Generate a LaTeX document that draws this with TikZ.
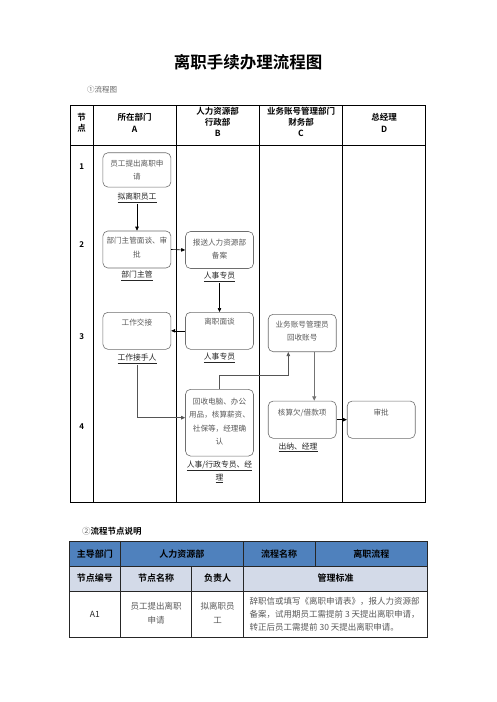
\documentclass[tikz,border=0pt]{standalone}
\usepackage{fontspec}
\setmainfont{Noto Sans CJK SC}[BoldFont={Noto Sans CJK SC Bold}]
\usetikzlibrary{arrows.meta,calc}
\definecolor{hblue}{HTML}{4F81BD}
\definecolor{hlight}{HTML}{D3DAE8}
\definecolor{boxline}{HTML}{6E6E6E}
\definecolor{boxtext}{HTML}{5A5A5A}
\definecolor{conn}{HTML}{555555}
\begin{document}
\begin{tikzpicture}[x=1pt,y=-1pt,
  box/.style={draw=boxline, rounded corners=5pt, minimum width=68pt, minimum height=37pt, inner sep=0pt, line width=0.6pt},
  btxt/.style={font=\fontsize{7.6}{13.3}\selectfont, text=boxtext, align=center, inner sep=0pt, anchor=north},
  lab/.style={font=\fontsize{7.8}{13}\selectfont, text=black!85, align=center, inner sep=1pt},
  hdr/.style={font=\bfseries\fontsize{8.5}{11}\selectfont, align=center, inner sep=0pt},
  num/.style={font=\bfseries\fontsize{8}{10}\selectfont, inner sep=0pt},
  tgrid/.style={line width=0.8pt, draw=black},
  t2grid/.style={line width=0.8pt, draw=black!85},
  t2h/.style={font=\bfseries\fontsize{9}{11}\selectfont, align=center, inner sep=0pt},
  t2t/.style={font=\fontsize{8.5}{14}\selectfont, text=boxtext, align=center, inner sep=0pt},
  arr/.style={-{Triangle[length=4pt,width=3.5pt]}, line width=0.6pt, draw=black},
  garr/.style={-{Triangle[length=4pt,width=3.5pt]}, line width=0.7pt, draw=conn},
  tarr/.style={-{Triangle[length=4.5pt,width=4pt]}, line width=1.3pt, draw=black!55}
]
\useasboundingbox (0,0) rectangle (496,702);
\fill[white] (0,0) rectangle (496,702);

% title
\node[font=\bfseries\fontsize{16.5}{18}\selectfont, inner sep=0pt] (title) at (248,62) {离职手续办理流程图};
\node[font=\fontsize{7.5}{9}\selectfont, text=black!60, anchor=west, inner sep=0pt] (sec1) at (87,90) {①流程图};

% flow table grid
\draw[tgrid] (70,105) rectangle (425.5,502.5);
\foreach \xx in {93.3,176,259.3,342.7} \draw[tgrid] (\xx,105) -- (\xx,502.5);
\draw[tgrid] (70,145.5) -- (425.5,145.5);

% headers
\node[hdr] (h0) at (81.7,123) {节\\点};
\node[hdr, font=\bfseries\fontsize{8.5}{12.3}\selectfont] (hA) at (134.7,123) {所在部门\\A};
\node[hdr] (hB) at (217.7,121.5) {人力资源部\\行政部\\B};
\node[hdr] (hC) at (301,121.5) {业务账号管理部门\\财务部\\C};
\node[hdr, font=\bfseries\fontsize{8.5}{12.3}\selectfont] (hD) at (384.1,123) {总经理\\D};

% node numbers
\node[num] (n1) at (81.7,166.7) {1};
\node[num] (n2) at (81.7,245) {2};
\node[num] (n3) at (81.7,336.7) {3};
\node[num] (n4) at (81.7,426.7) {4};

% boxes
\node[box, minimum height=34.3pt] (a1) at (136.9,169.9) {};
\node[btxt, yshift=-7pt] (a1t) at (a1.north) {员工提出离职申\\请};
\node[box] (a2) at (136.9,249.5) {};
\node[btxt, yshift=-6.5pt] (a2t) at (a2.north) {部门主管面谈、审\\批};
\node[box] (b2) at (219.5,250) {};
\node[btxt, yshift=-7.5pt] (b2t) at (b2.north) {报送人力资源部\\备案};
\node[box] (a3) at (136.9,330.8) {};
\node[btxt, yshift=-7pt] (a3t) at (a3.north) {工作交接};
\node[box] (b3) at (219.5,330.8) {};
\node[btxt, yshift=-6pt] (b3t) at (b3.north) {离职面谈};
\node[box, minimum height=37.4pt] (c3) at (302.2,333) {};
\node[btxt, yshift=-7pt] (c3t) at (c3.north) {业务账号管理员\\回收账号};
\node[box, minimum height=66.7pt] (b4) at (219.5,422.7) {};
\node[btxt, yshift=-8.8pt] (b4t) at (b4.north) {回收电脑、办公\\用品，核算薪资、\\社保等，经理确\\认};
\node[box, minimum height=37.3pt] (c4) at (302.2,419.7) {};
\node[btxt, yshift=-8pt] (c4t) at (c4.north) {核算欠/借款项};
\node[box, minimum height=37.3pt] (d4) at (381.2,419.7) {};
\node[btxt, yshift=-8pt] (d4t) at (d4.north) {审批};

% labels
\node[lab] (la1) at (137,198) {\underline{拟离职员工}};
\node[lab] (la2) at (137,276) {\underline{部门主管}};
\node[lab] (lb2) at (219.5,277) {\underline{人事专员}};
\node[lab] (la3) at (137,359) {\underline{工作接手人}};
\node[lab] (lb3) at (219.5,357.7) {\underline{人事专员}};
\node[lab] (lb4) at (219.5,471.5) {\underline{人事/行政专员、经}\\\underline{理}};
\node[lab] (lc4) at (298,447.3) {\underline{出纳、经理}};

% connectors
\draw[arr] (la1.south) -- (la1.south |- a2.north);
\draw[arr] (a2.east) -- (b2.west);
\draw[arr] (lb2.south) -- (lb2.south |- b3.north);
\draw[arr] (b3.west) -- (a3.east);
\coordinate (b4in) at ($(b4.west)+(0,-5)$);
\draw[garr] (la3.south) |- (b4in);
\coordinate (c3in) at ($(c3.south)+(-13.9,0)$);
\coordinate (c3out) at ($(c3.south)+(12.1,0)$);
\draw[garr] (b4.north) -- ++(0,-13.6) -| (c3in);
\draw[tarr] (c3out) -- (c3out |- c4.north);
\draw[arr] (c4.east) -- (d4.west);

% section 2
\node[font=\bfseries\fontsize{8.5}{10}\selectfont, anchor=west, inner sep=0pt] (sec2) at (82,531.7) {{\mdseries\color{black!60}②}流程节点说明};

\fill[hblue] (69.3,541.7) rectangle (427.7,566);
\fill[hlight] (69.3,566) rectangle (427.7,591);
\draw[t2grid] (69.3,541.7) rectangle (427.7,637.3);
\draw[t2grid] (69.3,566) -- (427.7,566);
\draw[t2grid] (69.3,591) -- (427.7,591);
\foreach \xx in {120.3,243.3} \draw[t2grid] (\xx,541.7) -- (\xx,637.3);
\draw[t2grid] (315,541.7) -- (315,566);
\draw[t2grid] (191.7,566) -- (191.7,637.3);

\node[t2h] (r1a) at (94.8,553.9) {主导部门};
\node[t2h] (r1b) at (181.8,553.9) {人力资源部};
\node[t2h] (r1c) at (279.2,553.9) {流程名称};
\node[t2h] (r1d) at (371.4,553.9) {离职流程};
\node[t2h] (r2a) at (94.8,578.5) {节点编号};
\node[t2h] (r2b) at (156,578.5) {节点名称};
\node[t2h] (r2c) at (217.5,578.5) {负责人};
\node[t2h] (r2d) at (335.5,578.5) {管理标准};
\node[t2t, text=black!85] (r3a) at (94.8,614) {A1};
\node[t2t] (r3b) at (156,613) {员工提出离职\\申请};
\node[t2t] (r3c) at (217.5,613) {拟离职员\\工};
\node[t2t, align=left, anchor=west, font=\fontsize{8.5}{13.2}\selectfont] (r3d) at (249.5,614) {辞职信或填写《离职申请表》，报人力资源部\\备案，试用期员工需提前 3 天提出离职申请，\\转正后员工需提前 30 天提出离职申请。};
\end{tikzpicture}
\end{document}
